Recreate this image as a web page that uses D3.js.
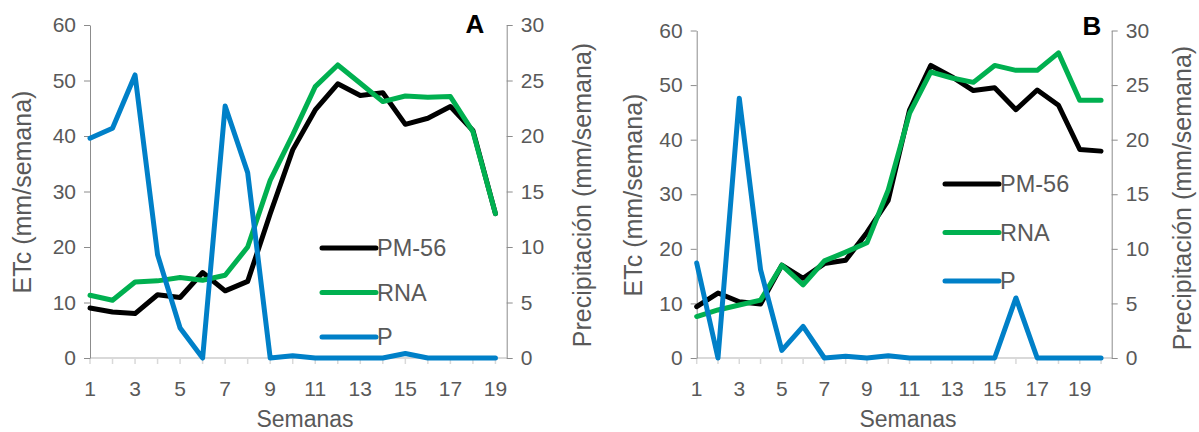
<!DOCTYPE html>
<html>
<head>
<meta charset="utf-8">
<script src="https://cdn.jsdelivr.net/npm/d3@7"></script>
<style>
  html, body { margin: 0; padding: 0; background: #fff; }
  svg { display: block; font-family: "Liberation Sans", Arial, sans-serif; }
</style>
</head>
<body>
<svg id="chart" width="1199" height="432"></svg>
<script>
// ---- Data ----
const weeksA = d3.range(1, 20);
const pm56A = [9.0, 8.3, 8.0, 11.4, 10.9, 15.4, 12.1, 13.8, 26.0, 37.5, 44.7, 49.4, 47.3, 47.8, 42.1, 43.2, 45.3, 41.0, 26.0];
const rnaA  = [11.3, 10.4, 13.7, 13.9, 14.5, 14.0, 14.9, 20.0, 32.0, 40.2, 48.9, 52.8, 49.5, 46.2, 47.2, 47.0, 47.1, 40.8, 26.0];
const precA = [19.8, 20.7, 25.5, 9.3, 2.7, 0.0, 22.7, 16.7, 0.0, 0.2, 0.0, 0.0, 0.0, 0.0, 0.4, 0.0, 0.0, 0.0, 0.0];

const weeksB = d3.range(1, 21);
const pm56B = [9.4, 11.9, 10.3, 9.9, 17.0, 14.6, 17.3, 17.9, 23.0, 28.9, 45.4, 53.6, 51.5, 49.0, 49.5, 45.5, 49.1, 46.3, 38.2, 37.9];
const rnaB  = [7.6, 8.8, 9.7, 10.6, 17.0, 13.4, 17.8, 19.4, 21.1, 30.8, 44.8, 52.4, 51.3, 50.5, 53.6, 52.7, 52.7, 55.9, 47.2, 47.2];
const precB = [8.7, 0.0, 23.8, 8.1, 0.7, 2.9, 0.0, 0.15, 0.0, 0.2, 0.0, 0.0, 0.0, 0.0, 0.0, 5.5, 0.0, 0.0, 0.0, 0.0];

const xTickLabels = [1, 3, 5, 7, 9, 11, 13, 15, 17, 19];
const leftTicks = [0, 10, 20, 30, 40, 50, 60];
const rightTicks = [0, 5, 10, 15, 20, 25, 30];
const seriesNames = ["PM-56", "RNA", "P"];
const seriesColors = ["#000000", "#00b050", "#0080c8"];

const leftTitle = "ETc (mm/semana)";
const rightTitle = "Precipitación (mm/semana)";
const xTitle = "Semanas";

const svg = d3.select("#chart");
const textColor = "#595959";
const fontFam = "Liberation Sans, Arial, sans-serif";

function panel(cfg) {
  const g = svg.append("g");
  const n = cfg.weeks.length;
  const x = d3.scaleLinear().domain([1, n + 0.5]).range([cfg.left, cfg.right]);
  const yL = d3.scaleLinear().domain([0, 60]).range([cfg.bottom, cfg.top]);
  const yR = d3.scaleLinear().domain([0, 30]).range([cfg.bottom, cfg.top]);

  // x axis baseline (light grey) with ticks at each week
  g.append("line")
    .attr("x1", cfg.left).attr("x2", cfg.right)
    .attr("y1", cfg.bottom).attr("y2", cfg.bottom)
    .attr("stroke", "#d9d9d9").attr("stroke-width", 2);
  g.selectAll(".xt").data(cfg.weeks).enter().append("line")
    .attr("x1", d => x(d)).attr("x2", d => x(d))
    .attr("y1", cfg.bottom).attr("y2", cfg.bottom + 6)
    .attr("stroke", "#d9d9d9").attr("stroke-width", 1.5);
  g.selectAll(".xl").data(xTickLabels).enter().append("text")
    .attr("x", d => x(d)).attr("y", cfg.bottom + 38)
    .attr("text-anchor", "middle")
    .attr("font-size", 21).attr("fill", textColor)
    .text(d => d);

  // left axis
  const axL = g.append("g").attr("transform", `translate(${cfg.left},0)`)
    .call(d3.axisLeft(yL).tickValues(leftTicks).tickSize(6).tickPadding(8).tickSizeOuter(0));
  axL.select(".domain").attr("stroke", "#8c8c8c");
  axL.selectAll(".tick line").attr("stroke", "#8c8c8c");
  axL.selectAll(".tick text").attr("font-size", 21).attr("fill", textColor)
    .attr("font-family", fontFam);

  // right axis
  const axR = g.append("g").attr("transform", `translate(${cfg.right},0)`)
    .call(d3.axisRight(yR).tickValues(rightTicks).tickSize(6).tickPadding(8).tickSizeOuter(0));
  axR.select(".domain").attr("stroke", "#8c8c8c");
  axR.selectAll(".tick line").attr("stroke", "#8c8c8c");
  axR.selectAll(".tick text").attr("font-size", 21).attr("fill", textColor)
    .attr("font-family", fontFam);

  // axis titles
  g.append("text")
    .attr("transform", `translate(${cfg.leftTitleX},${cfg.leftTitleY}) rotate(-90)`)
    .attr("text-anchor", "middle").attr("dominant-baseline", "central")
    .attr("font-size", 25).attr("fill", textColor).text(leftTitle);
  g.append("text")
    .attr("transform", `translate(${cfg.rightTitleX},${cfg.rightTitleY}) rotate(-90)`)
    .attr("text-anchor", "middle").attr("dominant-baseline", "central")
    .attr("font-size", 25).attr("fill", textColor).text(rightTitle);
  g.append("text")
    .attr("x", cfg.xTitleX).attr("y", cfg.bottom + 69)
    .attr("text-anchor", "middle")
    .attr("font-size", 23).attr("fill", textColor).text(xTitle);

  // panel letter
  g.append("text")
    .attr("x", cfg.letterX).attr("y", cfg.letterY)
    .attr("text-anchor", "middle")
    .attr("font-size", 26).attr("font-weight", "bold").attr("fill", "#000")
    .text(cfg.letter);

  // lines
  const lineL = d3.line().x((d, i) => x(cfg.weeks[i])).y(d => yL(d));
  const lineR = d3.line().x((d, i) => x(cfg.weeks[i])).y(d => yR(d));
  const seriesData = [
    { v: cfg.pm56, gen: lineL, c: seriesColors[0] },
    { v: cfg.rna, gen: lineL, c: seriesColors[1] },
    { v: cfg.prec, gen: lineR, c: seriesColors[2] }
  ];
  seriesData.forEach(s => {
    g.append("path").datum(s.v)
      .attr("d", s.gen)
      .attr("fill", "none").attr("stroke", s.c)
      .attr("stroke-width", 5).attr("stroke-linejoin", "round").attr("stroke-linecap", "round");
  });

  // legend
  seriesNames.forEach((name, i) => {
    const ly = cfg.legendY + i * cfg.legendStep;
    g.append("line")
      .attr("x1", cfg.legendX).attr("x2", cfg.legendX + 54)
      .attr("y1", ly).attr("y2", ly)
      .attr("stroke", seriesColors[i]).attr("stroke-width", 5).attr("stroke-linecap", "round");
    g.append("text")
      .attr("x", cfg.legendX + 55).attr("y", ly)
      .attr("dominant-baseline", "central")
      .attr("font-size", 23.5).attr("fill", textColor).text(name);
  });
}

panel({
  weeks: weeksA, pm56: pm56A, rna: rnaA, prec: precA,
  left: 90, right: 506.7, top: 25, bottom: 358,
  leftTitleX: 22, leftTitleY: 192, rightTitleX: 582, rightTitleY: 195, xTitleX: 305,
  letter: "A", letterX: 475, letterY: 33,
  legendX: 322, legendY: 248, legendStep: 44.5
});
panel({
  weeks: weeksB, pm56: pm56B, rna: rnaB, prec: precB,
  left: 696.7, right: 1111.7, top: 30.5, bottom: 358,
  leftTitleX: 633, leftTitleY: 195, rightTitleX: 1182, rightTitleY: 198, xTitleX: 908,
  letter: "B", letterX: 1092, letterY: 35,
  legendX: 945, legendY: 184, legendStep: 48.5
});
</script>
</body>
</html>
